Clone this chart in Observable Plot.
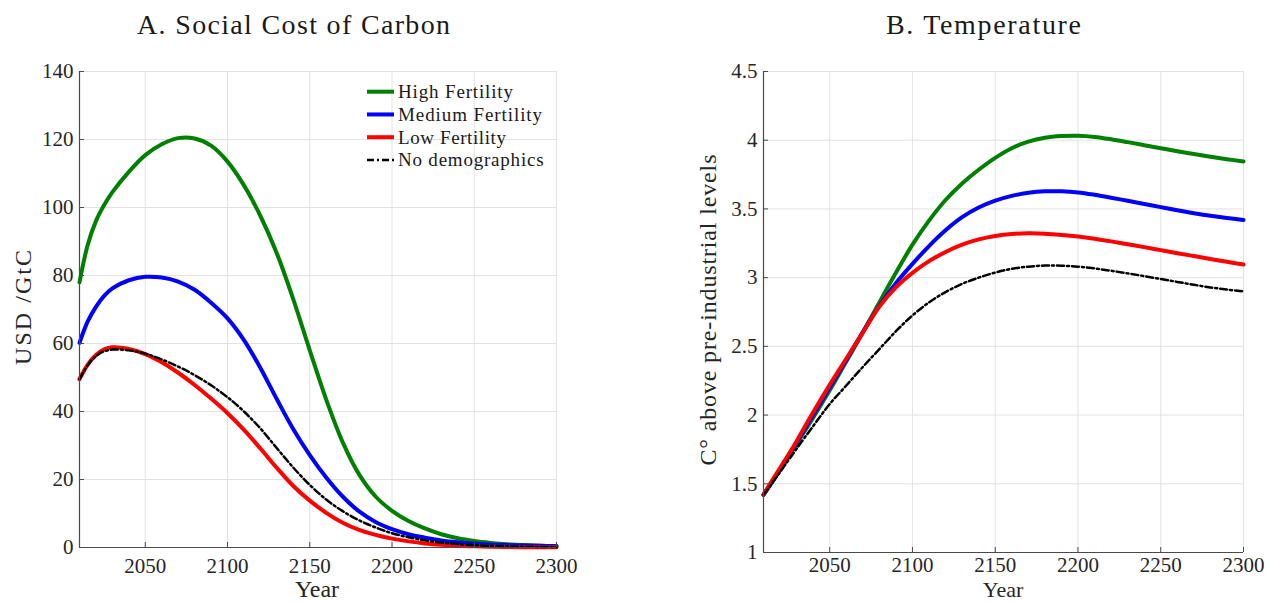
<!DOCTYPE html>
<html>
<head>
<meta charset="utf-8">
<script src="https://cdn.jsdelivr.net/npm/d3@7"></script>
<script src="https://cdn.jsdelivr.net/npm/@observablehq/plot@0.6"></script>
<style>
  html, body { margin: 0; padding: 0; background: #fff; }
  #root { position: relative; width: 1269px; height: 602px; overflow: hidden; font-family: "Liberation Serif", "Times New Roman", serif; }
  .panel { position: absolute; top: 50px; }
  .panel svg { display: block; }
  #overlay { position: absolute; left: 0; top: 0; pointer-events: none; }
</style>
</head>
<body>
<div id="root"></div>
<script>
// ---------- data ----------
const years = [2010, 2015, 2020, 2025, 2030, 2040, 2050, 2060, 2070, 2080, 2090, 2100, 2110, 2120, 2130, 2140,
               2150, 2160, 2170, 2180, 2190, 2200, 2210, 2220, 2230, 2240, 2250, 2260, 2270, 2280, 2290, 2300];

const seriesNames  = ["High Fertility", "Medium Fertility", "Low Fertility", "No demographics"];
const seriesColors = ["#008000", "#0000ff", "#ff0000", "#000000"];

// Panel A: Social cost of carbon (USD / GtC)
const sccHigh   = [78, 89, 96, 100.7, 104.5, 110.5, 115.4, 118.6, 120.4, 120.3, 118.2, 113.5, 106.5, 97.5, 86.5, 73,
                   58, 43.5, 31, 21.5, 15, 10.8, 7.8, 5.6, 3.9, 2.7, 1.9, 1.35, 0.95, 0.7, 0.5, 0.4];
const sccMedium = [60.2, 66.5, 70.8, 74, 76.2, 78.6, 79.6, 79.4, 78.2, 75.8, 72, 67.4, 61, 52.8, 43.6, 34.8,
                   27.2, 20.6, 15, 10.6, 7.5, 5.4, 3.9, 2.9, 2.1, 1.55, 1.15, 0.9, 0.72, 0.6, 0.5, 0.45];
const sccLow    = [49.5, 53.8, 56.6, 58.3, 58.9, 58.4, 56.9, 54.5, 51.4, 47.8, 43.8, 39.5, 34.6, 29.1, 23.4, 18.1,
                   13.8, 10.2, 7.3, 5.2, 3.7, 2.6, 1.8, 1.2, 0.8, 0.5, 0.35, 0.22, 0.15, 0.1, 0.06, 0.04];
const sccNoDemo = [49.5, 53.6, 56.3, 57.7, 58.2, 58, 57, 55.3, 53.2, 50.7, 47.7, 44.2, 40, 35, 29.2, 23.5,
                   18.4, 14.1, 10.7, 8, 5.9, 4.2, 3.0, 2.1, 1.45, 1.0, 0.7, 0.5, 0.35, 0.25, 0.15, 0.1];

// Panel B: Temperature (C° above pre-industrial levels)
const tempHigh   = [1.42, 1.51, 1.60, 1.70, 1.79, 1.98, 2.18, 2.39, 2.60, 2.82, 3.035, 3.24, 3.415, 3.565, 3.685, 3.785,
                    3.872, 3.942, 3.99, 4.018, 4.03, 4.032, 4.024, 4.007, 3.986, 3.964, 3.942, 3.92, 3.9, 3.88, 3.862, 3.845];
const tempMedium = [1.42, 1.51, 1.605, 1.70, 1.80, 2.0, 2.2, 2.40, 2.605, 2.795, 2.96, 3.10, 3.23, 3.345, 3.44, 3.51,
                    3.56, 3.595, 3.617, 3.628, 3.628, 3.62, 3.603, 3.582, 3.559, 3.536, 3.513, 3.49, 3.469, 3.45, 3.434, 3.42];
const tempLow    = [1.42, 1.52, 1.615, 1.71, 1.81, 2.02, 2.22, 2.41, 2.60, 2.79, 2.93, 3.035, 3.12, 3.187, 3.24, 3.278,
                    3.303, 3.318, 3.323, 3.32, 3.311, 3.299, 3.283, 3.264, 3.243, 3.222, 3.2, 3.178, 3.157, 3.136, 3.115, 3.095];
const tempNoDemo = [1.42, 1.50, 1.585, 1.67, 1.755, 1.92, 2.08, 2.215, 2.35, 2.48, 2.61, 2.725, 2.82, 2.895, 2.955, 3.0,
                    3.037, 3.064, 3.08, 3.088, 3.087, 3.08, 3.067, 3.05, 3.031, 3.011, 2.99, 2.969, 2.948, 2.929, 2.913, 2.90];

const xTicks    = [2050, 2100, 2150, 2200, 2250, 2300];
const sccTicks  = [0, 20, 40, 60, 80, 100, 120, 140];
const tempTicks = [1, 1.5, 2, 2.5, 3, 3.5, 4, 4.5];

const titles  = ["A. Social Cost of Carbon", "B. Temperature"];
const yLabels = ["USD /GtC", "C\u00B0 above pre-industrial levels"];
const xLabel  = "Year";

// ---------- drawing ----------
const FONT = '"Liberation Serif", "Times New Roman", serif';
const axisColor = "#4a4a4a";
const gridColor = "#e2e2e2";

function makePanel(values, yDomain, yTicks, dims) {
  const {width, height, ml, mr, mt, mb, xPad} = dims;
  const rows = [];
  values.forEach((arr, i) => arr.forEach((v, j) => rows.push({year: years[j], value: v, name: seriesNames[i]})));
  const solid  = rows.filter(d => d.name !== "No demographics");
  const dashed = rows.filter(d => d.name === "No demographics");
  const frameW = width - ml - mr, frameH = height - mt - mb;
  return Plot.plot({
    width, height,
    marginLeft: ml, marginRight: mr, marginTop: mt, marginBottom: mb,
    style: {fontFamily: FONT, fontSize: "21px", color: "#262626", background: "transparent", overflow: "visible"},
    x: {domain: [2010, 2300]},
    y: {domain: yDomain},
    color: {domain: seriesNames, range: seriesColors},
    marks: [
      Plot.gridX(xTicks, {stroke: gridColor, strokeOpacity: 1, strokeWidth: 1}),
      Plot.gridY(yTicks, {stroke: gridColor, strokeOpacity: 1, strokeWidth: 1}),
      Plot.line(solid, {x: "year", y: "value", z: "name", stroke: "name", strokeWidth: 4, curve: "catmull-rom"}),
      Plot.line(dashed, {x: "year", y: "value", stroke: "name", strokeWidth: 2.5, strokeDasharray: "7,3,2,3", curve: "catmull-rom"}),
      Plot.ruleX([2010], {stroke: axisColor, strokeWidth: 1.2}),
      Plot.ruleY([yDomain[0]], {stroke: axisColor, strokeWidth: 1.2}),
      Plot.tickX(xTicks, {x: d => d, insetTop: frameH - 5, stroke: axisColor}),
      Plot.tickY(yTicks, {y: d => d, insetRight: frameW - 5, stroke: axisColor}),
      Plot.axisX(xTicks, {tickSize: 0, tickPadding: xPad, tickFormat: d => String(d), label: null, fontSize: 21}),
      Plot.axisY(yTicks, {tickSize: 0, tickPadding: 6, tickFormat: d => String(d), label: null, fontSize: 21})
    ]
  });
}

const root = document.getElementById("root");

const left = document.createElement("div");
left.className = "panel";
left.style.left = "0px";
left.appendChild(makePanel([sccHigh, sccMedium, sccLow, sccNoDemo], [0, 140], sccTicks,
  {width: 620, height: 552, ml: 79, mr: 64, mt: 21, mb: 55, xPad: 11}));
root.appendChild(left);

const right = document.createElement("div");
right.className = "panel";
right.style.left = "690px";
right.appendChild(makePanel([tempHigh, tempMedium, tempLow, tempNoDemo], [1, 4.5], tempTicks,
  {width: 579, height: 552, ml: 73, mr: 26, mt: 21, mb: 50, xPad: 5}));
root.appendChild(right);

// overlay: titles, axis labels, legend
const ov = d3.select(root).append("svg")
  .attr("id", "overlay").attr("width", 1269).attr("height", 602)
  .style("font-family", FONT).attr("fill", "#1a1a1a");

const titleSpecs = [{x: 137, len: 313}, {x: 886, len: 195}];
titles.forEach((t, i) => {
  ov.append("text").attr("x", titleSpecs[i].x).attr("y", 34)
    .attr("font-size", 28).attr("textLength", titleSpecs[i].len).attr("lengthAdjust", "spacing").text(t);
});

const ySpecs = [{x: 31, y: 307.5, len: 115}, {x: 716, y: 310, len: 311}];
yLabels.forEach((t, i) => {
  ov.append("text").attr("transform", `translate(${ySpecs[i].x},${ySpecs[i].y}) rotate(-90)`)
    .attr("text-anchor", "middle").attr("font-size", 24).attr("fill", "#262626")
    .attr("textLength", ySpecs[i].len).attr("lengthAdjust", "spacing").text(t);
});

[{x: 317, y: 597, s: 24}, {x: 1003, y: 597, s: 22}].forEach(p => {
  ov.append("text").attr("x", p.x).attr("y", p.y).attr("text-anchor", "middle")
    .attr("font-size", p.s).attr("fill", "#262626").text(xLabel);
});

const legendLens = [115, 144, 108, 145.6];
seriesNames.forEach((name, i) => {
  const y = 91.7 + i * 22.75;
  const ln = ov.append("line").attr("x1", 367).attr("x2", 394).attr("y1", y).attr("y2", y)
    .attr("stroke", seriesColors[i]);
  if (i < 3) ln.attr("stroke-width", 4);
  else ln.attr("stroke-width", 2.5).attr("stroke-dasharray", "7,3,2,3");
  ov.append("text").attr("x", 398).attr("y", y + 6.5).attr("font-size", 19)
    .attr("fill", "#1a1a1a").attr("textLength", legendLens[i]).attr("lengthAdjust", "spacing").text(name);
});
</script>
</body>
</html>
